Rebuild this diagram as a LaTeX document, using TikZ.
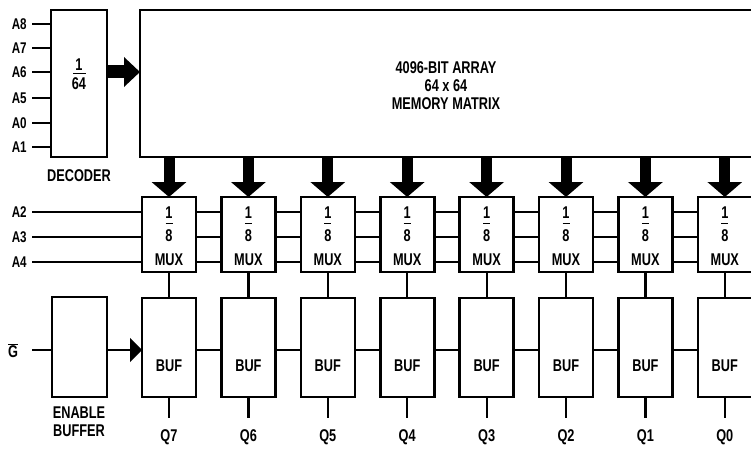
\documentclass[tikz,border=0pt]{standalone}
\usepackage{fontspec}
\setmainfont{Liberation Sans}[FakeStretch=0.75]
\usetikzlibrary{arrows.meta,calc}
\begin{document}
\begin{tikzpicture}[x=1pt,y=-1pt,line width=2.6pt,
  box/.style={draw,fill=white,inner sep=0pt,outer sep=0pt,anchor=north west},
  lbl/.style={font=\fontsize{17}{18}\selectfont\bfseries,inner sep=0pt},
  albl/.style={font=\fontsize{15.5}{16}\selectfont\bfseries,inner sep=0pt,anchor=east},
  fatdown/.style={line width=11pt,-{Triangle[length=15pt,width=34pt]}},
  fatright/.style={line width=13pt,-{Triangle[length=16pt,width=29pt]}},
  wire/.style={line width=2.2pt},
  fbar/.style={line width=1pt}]
\clip (0,0) rectangle (751,449);
\fill[white] (0,0) rectangle (751,449);

% decoder and array
\node[box,minimum width=56pt,minimum height=147pt] (dec) at (51,10) {};
\node[box,minimum width=640pt,minimum height=147pt] (arr) at (140,10) {};
\node[lbl] (d1) at (79,65) {1};
\draw[line width=1.5pt] (73,73.5) -- (86,73.5);
\node[lbl] (d64) at (79,84) {64};
\node[lbl] (dectxt) at (79,176) {DECODER};
\node[lbl,align=center] (arrtxt) at (446,86) {4096-BIT ARRAY\\64 x 64\\MEMORY MATRIX};

\foreach \t/\y in {A8/24,A7/48,A6/72,A5/98,A0/123,A1/147}{
  \node[albl] (l\t) at (28,\y) {\t};
  \draw[wire] ($(l\t.east)+(4,0)$) -- (l\t -| dec.west);
}
\draw[fatright] (lA6 -| dec.east) -- (lA6 -| arr.west);

% enable buffer
\node[box,minimum width=55pt,minimum height=100pt] (en) at (52,297) {};
\node[lbl,align=center] (entxt) at (79,422) {ENABLE\\BUFFER};
\node[lbl] (g) at (13,351) {$\overline{\hbox{G}}$};
\coordinate (gs) at (32,350);
\draw[wire] (gs) -- (gs -| en.west);

% mux and buf columns
\foreach \i in {0,...,7}{
  \node[box,minimum width=54pt,minimum height=75pt] (mux\i) at ({142+79.4*\i},197) {};
  \node[box,minimum width=54pt,minimum height=99pt] (buf\i) at ({142+79.4*\i},298) {};
  \node[lbl] (one\i) at ($(mux\i.north)+(0,16)$) {1};
  \draw[fbar] ($(mux\i.north)+(-3.5,26.5)$) -- ++(7,0);
  \node[lbl] (eight\i) at ($(mux\i.north)+(0,39)$) {8};
  \node[lbl] (muxt\i) at ($(mux\i.north)+(0,63)$) {MUX};
  \node[lbl] (buft\i) at ($(buf\i.center)+(0,18)$) {BUF};
  \pgfmathtruncatemacro\q{7-\i}
  \node[lbl] (q\i) at ($(buf\i.south)+(0,40)$) {Q\q};
  \draw[wire] (mux\i.south) -- (buf\i.north);
  \draw[wire] (buf\i.south) -- ($(q\i.north)+(0,-10)$);
  \draw[fatdown] (mux\i.north |- arr.south) -- (mux\i.north);
}

\foreach \t/\y in {A2/212,A3/237,A4/262}{
  \node[albl] (l\t) at (28,\y) {\t};
  \draw[wire] ($(l\t.east)+(4,0)$) -- (l\t -| mux0.west);
}
\foreach \i [count=\j] in {0,...,6}{
  \foreach \y in {212,237,262}{
    \draw[wire] (mux\i.east |- 0,\y) -- (mux\j.west |- 0,\y);
  }
  \draw[wire] (buf\i.east |- gs) -- (buf\j.west |- gs);
}
\draw[wire,-{Triangle[length=12pt,width=24pt]}] (gs -| en.east) -- (gs -| buf0.west);
\end{tikzpicture}
\end{document}
